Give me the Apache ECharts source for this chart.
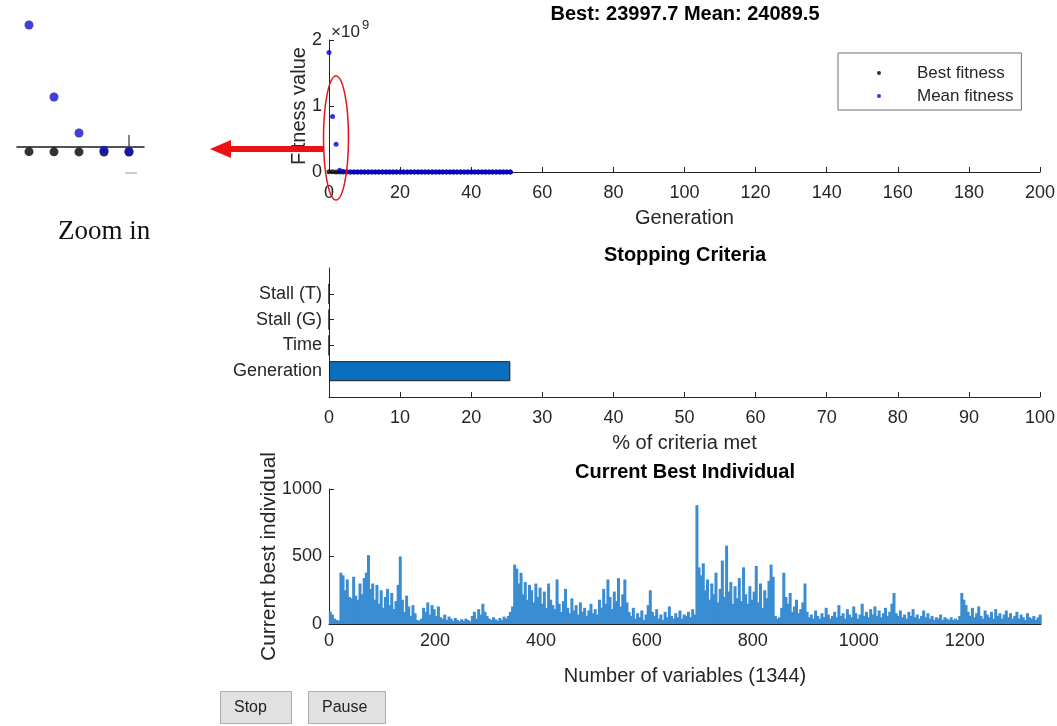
<!DOCTYPE html>
<html>
<head>
<meta charset="utf-8">
<script src="https://cdn.jsdelivr.net/npm/echarts@6/dist/echarts.min.js"></script>
<style>
html, body { margin: 0; padding: 0; background: #fff; }
#main { width: 1057px; height: 726px; }
</style>
</head>
<body>
<div id="main"></div>
<script>
// fitness per generation (0..51)
var best = [5.3e6, 2.4e6, 1.1e6, 5.2e5, 2.6e5, 1.5e5, 1.02e5, 7.9e4, 6.4e4, 5.5e4, 4.8e4, 4.3e4,
    3.9e4, 3.6e4, 3.4e4, 3.22e4, 3.08e4, 2.96e4, 2.87e4, 2.79e4, 2.73e4, 2.68e4, 2.64e4, 2.61e4,
    2.58e4, 2.56e4, 2.54e4, 2.52e4, 2.51e4, 2.495e4, 2.483e4, 2.472e4, 2.463e4, 2.455e4, 2.448e4, 2.442e4,
    2.436e4, 2.43e4, 2.425e4, 2.42e4, 2.416e4, 2.412e4, 2.409e4, 2.406e4, 2.404e4, 2.4025e4, 2.4013e4, 2.4005e4,
    2.4e4, 23999.1, 23998.4, 23997.7];
var mean = [1.81e9, 8.4e8, 4.2e8, 2.6e7, 8.1e6, 3.4e6, 1.6e6, 8.2e5, 4.4e5, 2.5e5, 1.5e5, 9.8e4,
    7.2e4, 5.8e4, 4.9e4, 4.3e4, 3.9e4, 3.6e4, 3.35e4, 3.15e4, 3.0e4, 2.9e4, 2.81e4, 2.74e4,
    2.68e4, 2.63e4, 2.59e4, 2.56e4, 2.535e4, 2.515e4, 2.5e4, 2.488e4, 2.477e4, 2.467e4, 2.459e4, 2.452e4,
    2.446e4, 2.44e4, 2.435e4, 2.43e4, 2.426e4, 2.422e4, 2.419e4, 2.416e4, 2.414e4, 2.4125e4, 2.4113e4, 2.4104e4,
    2.4097e4, 24093.2, 24091.0, 24089.5];

// zoomed inset (first 5 generations, as drawn in the inset)
var zoomMean = [1.8e9, 7.8e8, 2.7e8, 2.6e7, 8.1e6];

// stopping criteria
var criteria = ['Generation', 'Time', 'Stall (G)', 'Stall (T)'];
var criteriaMet = [25.5, 0, 0, 0];

// current best individual, one value per 4 variables (1344 vars)
var varStep = 4;
var individual = [
    90, 70, 40, 30, 25, 380, 360, 250, 330, 200, 190, 350,
    210, 180, 300, 220, 340, 380, 510, 260, 300, 180, 290, 150,
    250, 120, 200, 260, 140, 230, 110, 170, 290, 500, 180, 90,
    210, 130, 60, 140, 80, 30, 25, 40, 120, 90, 160, 70,
    140, 110, 60, 130, 50, 40, 70, 30, 55, 40, 25, 45,
    30, 20, 35, 25, 40, 30, 20, 60, 90, 40, 110, 70,
    150, 90, 60, 40, 30, 50, 35, 25, 45, 30, 55, 40,
    60, 90, 130, 440, 410, 300, 380, 220, 310, 180, 290, 250,
    160, 300, 200, 270, 150, 240, 120, 300, 180, 140, 110, 330,
    150, 90, 170, 260, 120, 80, 190, 100, 140, 70, 160, 90,
    120, 60, 100, 150, 80, 110, 70, 180, 120, 260, 150, 330,
    200, 110, 240, 170, 340, 130, 220, 330, 160, 90, 60, 120,
    40, 80, 50, 100, 30, 70, 140, 250, 90, 60, 110, 40,
    70, 30, 90, 50, 130, 60, 40, 80, 50, 100, 40, 70,
    60, 90, 50, 110, 70, 880, 420, 360, 450, 250, 330, 180,
    300, 220, 380, 160, 260, 470, 200, 580, 240, 310, 150, 280,
    190, 340, 170, 420, 220, 150, 280, 180, 240, 430, 160, 300,
    120, 250, 190, 320, 440, 350, 60, 40, 50, 120, 380, 200,
    150, 230, 90, 130, 180, 80, 110, 160, 300, 90, 50, 70,
    40, 100, 60, 40, 80, 50, 120, 70, 40, 60, 90, 50,
    140, 60, 80, 40, 110, 70, 50, 130, 80, 40, 70, 150,
    60, 90, 50, 110, 70, 130, 60, 100, 50, 80, 120, 60,
    90, 150, 230, 80, 60, 100, 50, 70, 40, 90, 60, 110,
    50, 70, 40, 60, 100, 50, 80, 40, 60, 30, 50, 40,
    70, 30, 50, 40, 30, 50, 30, 40, 30, 60, 230, 180,
    140, 90, 60, 120, 50, 80, 130, 60, 40, 100, 70, 50,
    90, 40, 110, 60, 80, 40, 70, 100, 50, 80, 40, 60,
    90, 40, 70, 50, 30, 80, 50, 40, 60, 30, 50, 70
];
var nVars = 1344;

var ink = '#262626';
var font = "'Liberation Sans', Arial, sans-serif";

function plain(v) { return String(v); }

function valAxis(grid, min, max, interval, extra) {
    var a = {
        gridIndex: grid,
        type: 'value',
        min: min,
        max: max,
        interval: interval,
        axisLine: { show: true, onZero: false, lineStyle: { color: ink, width: 1 } },
        axisTick: { show: true, inside: true, length: 5, lineStyle: { color: ink } },
        axisLabel: { color: ink, fontSize: 18, fontFamily: font, formatter: plain },
        splitLine: { show: false },
        nameLocation: 'middle',
        nameMoveOverlap: false,
        nameTextStyle: { color: ink, fontSize: 20, fontFamily: font }
    };
    for (var k in extra) a[k] = extra[k];
    return a;
}

var chart = echarts.init(document.getElementById('main'));

var titleStyle = { color: '#000', fontSize: 20, fontWeight: 'bold', fontFamily: font };

var option = {
    animation: false,
    backgroundColor: '#fff',
    title: [
        { text: 'Best: ' + best[best.length - 1] + ' Mean: ' + mean[mean.length - 1], left: 685, top: 4, textAlign: 'center', padding: 0, textStyle: titleStyle },
        { text: 'Stopping Criteria', left: 685, top: 245, textAlign: 'center', padding: 0, textStyle: titleStyle },
        { text: 'Current Best Individual', left: 685, top: 462, textAlign: 'center', padding: 0, textStyle: titleStyle }
    ],
    legend: {
        data: ['Best fitness', 'Mean fitness'],
        orient: 'vertical',
        left: 838,
        top: 53,
        padding: [10, 8, 4, 39],
        itemWidth: 66,
        itemHeight: 4,
        itemGap: 3,
        icon: 'circle',
        selectedMode: false,
        borderColor: '#707070',
        borderWidth: 1,
        backgroundColor: '#fff',
        textStyle: { color: ink, fontSize: 17, fontFamily: font, lineHeight: 20 }
    },
    grid: [
        { left: 329, right: 17, top: 40, height: 132, outerBoundsMode: 'none' },
        { left: 329, right: 17, top: 268, height: 129, outerBoundsMode: 'none' },
        { left: 329, right: 16, top: 489, height: 135, outerBoundsMode: 'none' },
        { left: 17, width: 127, top: 25, height: 127, outerBoundsMode: 'none' }
    ],
    xAxis: [
        valAxis(0, 0, 200, 20, { name: 'Generation', nameGap: 36, axisLabel: { color: ink, fontSize: 18, fontFamily: font, margin: 12, formatter: plain } }),
        valAxis(1, 0, 100, 10, { name: '% of criteria met', nameGap: 36, axisLabel: { color: ink, fontSize: 18, fontFamily: font, margin: 12, formatter: plain } }),
        valAxis(2, 0, nVars, 200, { name: 'Number of variables (' + nVars + ')', nameGap: 42, axisLabel: { color: ink, fontSize: 18, fontFamily: font, margin: 8, showMaxLabel: false, formatter: plain } }),
        {
            gridIndex: 3, type: 'value', min: -0.48, max: 4.6, offset: -5,
            axisLine: { show: true, onZero: false, lineStyle: { color: '#1a1a1a', width: 1.5 } },
            axisTick: { show: false }, axisLabel: { show: false }, splitLine: { show: false }
        }
    ],
    yAxis: [
        valAxis(0, 0, 2e9, 1e9, {
            name: 'Fitness value', nameGap: 20,
            axisLabel: { color: ink, fontSize: 18, fontFamily: font, margin: 7, formatter: function (v) { return String(v / 1e9); } }
        }),
        {
            gridIndex: 1,
            type: 'category',
            boundaryGap: false,
            data: [' '].concat(criteria, ['  ']),
            axisLine: { show: true, lineStyle: { color: ink } },
            axisTick: { show: true, inside: true, length: 5, lineStyle: { color: ink }, interval: function (i) { return i > 0 && i <= criteria.length; } },
            axisLabel: { color: ink, fontSize: 18, fontFamily: font, margin: 7, interval: function (i) { return i > 0 && i <= criteria.length; } },
            splitLine: { show: false }
        },
        valAxis(2, 0, 1000, 500, {
            name: 'Current best individual', nameGap: 49,
            nameTextStyle: { color: ink, fontSize: 21, fontFamily: font },
            axisLabel: { color: ink, fontSize: 18, fontFamily: font, margin: 7, formatter: plain }
        }),
        { gridIndex: 3, type: 'value', min: 0, max: zoomMean[0], show: false }
    ],
    series: [
        {
            name: 'Best fitness', type: 'scatter', xAxisIndex: 0, yAxisIndex: 0,
            symbolSize: 5, itemStyle: { color: '#000' },
            data: best.map(function (v, i) { return [i, v]; })
        },
        {
            name: 'Mean fitness', type: 'scatter', xAxisIndex: 0, yAxisIndex: 0,
            symbolSize: 5, itemStyle: { color: '#0000e0' },
            data: mean.map(function (v, i) { return [i, v]; })
        },
        {
            type: 'bar', xAxisIndex: 1, yAxisIndex: 1, barWidth: 20,
            itemStyle: { color: '#0b6fbf', borderColor: '#1a1a1a', borderWidth: 1 },
            data: ['-'].concat(criteriaMet, ['-'])
        },
        {
            type: 'bar', xAxisIndex: 2, yAxisIndex: 2, barWidth: 3,
            itemStyle: { color: '#3a8dd2' },
            data: individual.map(function (v, i) { return [i * varStep + varStep / 2 + 0.5, v]; })
        },
        {
            type: 'scatter', xAxisIndex: 3, yAxisIndex: 3, clip: false, symbolSize: 9,
            itemStyle: { color: '#000' },
            data: best.slice(0, 5).map(function (v, i) { return [i, v]; })
        },
        {
            type: 'scatter', xAxisIndex: 3, yAxisIndex: 3, clip: false, symbolSize: 9,
            itemStyle: { color: '#1010c8' },
            data: zoomMean.map(function (v, i) { return [i, v]; })
        }
    ],
    graphic: [
        { type: 'text', left: 331, top: 24, z: 50, style: { text: '×10', fill: ink, fontSize: 17, fontFamily: font } },
        { type: 'text', left: 362, top: 19, z: 50, style: { text: '9', fill: ink, fontSize: 13, fontFamily: font } },
        // red ellipse + arrow
        { type: 'ellipse', z: 100, shape: { cx: 336, cy: 138, rx: 12.5, ry: 62 }, style: { fill: 'none', stroke: '#e3141b', lineWidth: 1.5 } },
        { type: 'rect', z: 100, shape: { x: 228, y: 146, width: 96, height: 6 }, style: { fill: '#ee1111' } },
        { type: 'polygon', z: 100, shape: { points: [[210, 149], [231, 140], [231, 158]] }, style: { fill: '#ee1111' } },
        // inset details
        { type: 'line', z: 60, shape: { x1: 129, y1: 135, x2: 129, y2: 147 }, style: { stroke: '#333', lineWidth: 1.2 } },
        { type: 'line', z: 60, shape: { x1: 125, y1: 173, x2: 137, y2: 173 }, style: { stroke: '#bbb', lineWidth: 1.5 } },
        { type: 'text', left: 58, top: 218, style: { text: 'Zoom in', fill: '#111', fontSize: 27, fontFamily: "'Liberation Serif', 'Times New Roman', serif" } },
        // buttons
        { type: 'rect', z: 10, shape: { x: 220.5, y: 691.5, width: 71, height: 32 }, style: { fill: '#e1e1e1', stroke: '#adadad', lineWidth: 1 } },
        { type: 'text', z: 11, left: 234, top: 700, style: { text: 'Stop', fill: '#222', fontSize: 16, fontFamily: font } },
        { type: 'rect', z: 10, shape: { x: 308.5, y: 691.5, width: 77, height: 32 }, style: { fill: '#e1e1e1', stroke: '#adadad', lineWidth: 1 } },
        { type: 'text', z: 11, left: 322, top: 700, style: { text: 'Pause', fill: '#222', fontSize: 16, fontFamily: font } }
    ]
};

chart.setOption(option);
window.addEventListener('resize', function () { chart.resize(); });
</script>
</body>
</html>
